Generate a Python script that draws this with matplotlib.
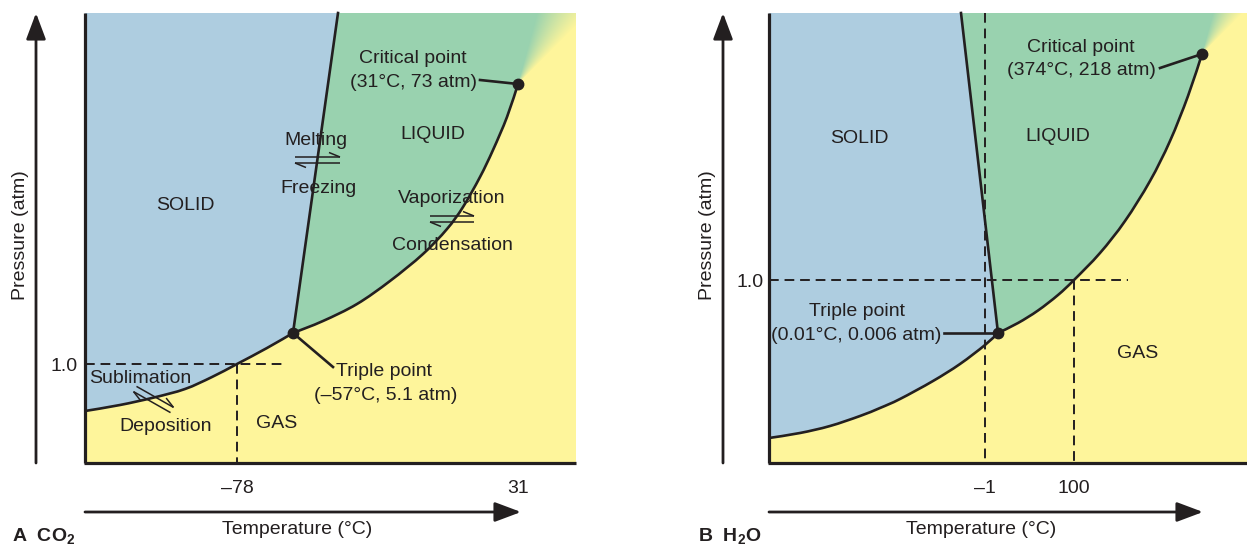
import numpy as np
import matplotlib.pyplot as plt
from matplotlib.path import Path
from matplotlib.patches import PathPatch

plt.rcParams['font.family'] = ['Liberation Sans', 'DejaVu Sans']
plt.rcParams['mathtext.fontset'] = 'custom'
plt.rcParams['mathtext.rm'] = 'Liberation Sans'
plt.rcParams['mathtext.bf'] = 'Liberation Sans:bold'

BLUE = '#aecde0'
GREEN = '#99d2af'
YELLOW = '#fef59b'
INK = '#231f20'

# schematic diagram coordinates (x right, y down)

# CO2: sublimation curve + vaporization curve (triple point at index 7)
co2_boundary_x = [85, 120, 154, 185, 212, 237, 267, 293, 323, 357, 390, 423, 447, 463, 480, 493, 507, 518]
co2_boundary_y = [411, 405, 397.5, 389, 377, 364, 348, 333, 321, 304, 281, 254, 229, 207, 177, 150, 117, 84]
co2_triple_index = 7
co2_melting_x = [293, 338]
co2_melting_y = [333, 13]
co2_temp_ticks = [237, 518]
co2_temp_labels = ['\u201378', '31']
co2_pressure_tick = 364

# H2O: sublimation curve + vaporization curve (triple point at index 9)
h2o_boundary_x = [769, 800, 830, 860, 880, 900, 933, 960, 985, 998, 1018, 1038, 1058, 1074,
                  1100, 1125, 1150, 1170, 1188, 1202]
h2o_boundary_y = [438, 433, 426, 416, 408, 399, 381, 364, 345, 333, 323, 310.5, 295, 280,
                  253, 221, 181, 141, 96, 54]
h2o_triple_index = 9
h2o_melting_x = [998, 961]
h2o_melting_y = [333, 13]
h2o_temp_ticks = [985, 1074]
h2o_temp_labels = ['\u20131', '100']
h2o_pressure_tick = 280


def smooth_segments(xs, ys):
    # Catmull-Rom through the read points, as cubic Bezier segments
    p = np.column_stack([xs, ys]).astype(float)
    ext = np.vstack([p[0], p, p[-1]])
    verts, codes = [], []
    for i in range(len(p) - 1):
        p0, p1, p2, p3 = ext[i], ext[i + 1], ext[i + 2], ext[i + 3]
        verts += [p1 + (p2 - p0) / 6, p2 - (p3 - p1) / 6, p2]
        codes += [Path.CURVE4] * 3
    return verts, codes


def txt(ax, x, y, s, ha='center', size=14, **kw):
    ax.text(x, y + 7, s, ha=ha, va='baseline', fontsize=size, color=INK, zorder=6, **kw)


def harpoons(ax, p0, p1, gap=6, barb=11, rise=4.5):
    p0 = np.array(p0, float)
    p1 = np.array(p1, float)
    u = (p1 - p0) / np.hypot(*(p1 - p0))
    up = np.array([u[1], -u[0]])
    a0, a1 = p0 + up * gap / 2, p1 + up * gap / 2
    b0, b1 = p0 - up * gap / 2, p1 - up * gap / 2
    kw = dict(color=INK, lw=1.1, zorder=6, solid_capstyle='butt')
    ax.plot([a0[0], a1[0]], [a0[1], a1[1]], **kw)
    t = a1 - u * barb + up * rise
    ax.plot([a1[0], t[0]], [a1[1], t[1]], **kw)
    ax.plot([b0[0], b1[0]], [b0[1], b1[1]], **kw)
    t = b0 + u * barb - up * rise
    ax.plot([b0[0], t[0]], [b0[1], t[1]], **kw)


def draw_panel(ax, box, bx, by, ti, mx, my, yarrow_x, xarrow_tip):
    left, right, top, bottom = box
    sub_v, sub_c = smooth_segments(bx[:ti + 1], by[:ti + 1])
    vap_v, vap_c = smooth_segments(bx[ti:], by[ti:])
    vap_rv, vap_rc = smooth_segments(bx[ti:][::-1], by[ti:][::-1])
    triple = (bx[ti], by[ti])
    crit = (bx[-1], by[-1])

    ax.fill([left, right, right, left], [top, top, bottom, bottom], color=YELLOW, lw=0, zorder=1)

    v = [(left, top), (left, by[0])] + sub_v + [(mx[1], my[1]), (left, top)]
    c = [Path.MOVETO, Path.LINETO] + sub_c + [Path.LINETO, Path.CLOSEPOLY]
    ax.add_patch(PathPatch(Path(v, c), facecolor=BLUE, lw=0, zorder=1.2))

    v = [triple, (mx[1], my[1]), (crit[0], top), crit] + vap_rv + [triple]
    c = [Path.MOVETO, Path.LINETO, Path.LINETO, Path.LINETO] + vap_rc + [Path.CLOSEPOLY]
    ax.add_patch(PathPatch(Path(v, c), facecolor=GREEN, lw=0, zorder=1.2))

    # supercritical fade above and right of the critical point
    xc, yc = crit
    gx = np.arange(xc, right) + 0.5
    gy = np.arange(top, yc) + 0.5
    X, Y = np.meshgrid(gx, gy)
    theta = np.degrees(np.arctan2(yc - Y, X - xc))
    t = np.clip((theta - 45) / 30, 0, 1)[..., None]
    g = np.array([int(GREEN[i:i + 2], 16) for i in (1, 3, 5)]) / 255
    yl = np.array([int(YELLOW[i:i + 2], 16) for i in (1, 3, 5)]) / 255
    img = yl * (1 - t) + g * t
    ax.imshow(img, extent=(xc, right, yc, top), origin='upper', aspect='auto',
              interpolation='bilinear', zorder=1.4)

    ax.plot([left, left], [top, bottom], color=INK, lw=2.3, zorder=5, solid_capstyle='butt')
    ax.plot([left - 1, right], [bottom, bottom], color=INK, lw=2.3, zorder=5, solid_capstyle='butt')

    v = [(bx[0], by[0])] + sub_v + vap_v
    c = [Path.MOVETO] + sub_c + vap_c
    ax.add_patch(PathPatch(Path(v, c), facecolor='none', edgecolor=INK, lw=1.9,
                           joinstyle='round', zorder=4))
    ax.plot(mx, my, color=INK, lw=1.9, zorder=4)
    ax.plot([triple[0], crit[0]], [triple[1], crit[1]], 'o', ms=7.5, color=INK, zorder=5)

    ap = dict(arrowstyle='-|>,head_length=1.6,head_width=0.6', lw=2.0, color=INK,
              shrinkA=0, shrinkB=0)
    ax.annotate('', xy=(yarrow_x, top), xytext=(yarrow_x, bottom), arrowprops=ap)
    ax.annotate('', xy=(xarrow_tip, 512), xytext=(left, 512), arrowprops=ap)


fig = plt.figure(figsize=(12.47, 5.47), dpi=100)
ax = fig.add_axes([0, 0, 1, 1])

dash = dict(color=INK, lw=1.4, ls=(0, (5, 3)), zorder=3)

# ---- A: CO2 ----
draw_panel(ax, (85, 576, 13, 463), co2_boundary_x, co2_boundary_y, co2_triple_index,
           co2_melting_x, co2_melting_y, 36, 521)
ax.plot([85, 286], [co2_pressure_tick] * 2, **dash)
ax.plot([co2_temp_ticks[0]] * 2, [co2_pressure_tick, 463], **dash)
for x, s in zip(co2_temp_ticks, co2_temp_labels):
    txt(ax, x, 486, s)
txt(ax, 78, co2_pressure_tick, '1.0', ha='right')

txt(ax, 185, 203, 'SOLID')
txt(ax, 433, 132, 'LIQUID')
txt(ax, 277, 421, 'GAS')
txt(ax, 316, 138, 'Melting')
txt(ax, 318, 186, 'Freezing')
harpoons(ax, (295, 160), (340, 160))
txt(ax, 452, 196, 'Vaporization')
txt(ax, 452, 243, 'Condensation')
harpoons(ax, (430, 219), (474, 219))
txt(ax, 140, 376, 'Sublimation')
txt(ax, 166, 424, 'Deposition')
harpoons(ax, (135, 389), (172, 410))

txt(ax, 413, 56, 'Critical point')
txt(ax, 413, 80, '(31\u00b0C, 73 atm)')
ax.plot([480, co2_boundary_x[-1]], [80, co2_boundary_y[-1]], color=INK, lw=1.9, zorder=4)
txt(ax, 384, 369, 'Triple point')
txt(ax, 386, 393, '(\u201357\u00b0C, 5.1 atm)')
ax.plot([co2_melting_x[0], 333], [co2_melting_y[0], 367], color=INK, lw=1.9, zorder=4)

ax.text(21, 235, 'Pressure (atm)', rotation=90, ha='center', va='center', fontsize=14, color=INK)
txt(ax, 297, 527, 'Temperature (\u00b0C)')
ax.text(12, 542, r'A  CO$_\mathbf{2}$', fontsize=14, fontweight='bold', color=INK, va='baseline')

# ---- B: H2O ----
draw_panel(ax, (769, 1247, 13, 463), h2o_boundary_x, h2o_boundary_y, h2o_triple_index,
           h2o_melting_x, h2o_melting_y, 723, 1203)
ax.plot([769, 1128], [h2o_pressure_tick] * 2, **dash)
ax.plot([h2o_temp_ticks[0]] * 2, [13, 463], **dash)
ax.plot([h2o_temp_ticks[1]] * 2, [h2o_pressure_tick, 463], **dash)
for x, s in zip(h2o_temp_ticks, h2o_temp_labels):
    txt(ax, x, 486, s)
txt(ax, 764, h2o_pressure_tick, '1.0', ha='right')

txt(ax, 859, 136, 'SOLID')
txt(ax, 1058, 134, 'LIQUID')
txt(ax, 1138, 351, 'GAS')

txt(ax, 1081, 45, 'Critical point')
txt(ax, 1081, 68, '(374\u00b0C, 218 atm)')
ax.plot([1160, h2o_boundary_x[-1]], [68, h2o_boundary_y[-1]], color=INK, lw=1.9, zorder=4)
txt(ax, 857, 309, 'Triple point')
txt(ax, 856, 333, '(0.01\u00b0C, 0.006 atm)')
ax.plot([944, h2o_melting_x[0]], [333, h2o_melting_y[0]], color=INK, lw=1.9, zorder=4)

ax.text(707, 235, 'Pressure (atm)', rotation=90, ha='center', va='center', fontsize=14, color=INK)
txt(ax, 981, 527, 'Temperature (\u00b0C)')
ax.text(698, 542, r'B  H$_\mathbf{2}$O', fontsize=14, fontweight='bold', color=INK, va='baseline')

ax.set_xlim(0, 1247)
ax.set_ylim(547, 0)
ax.axis('off')

fig.savefig('out.png', dpi=100)
plt.close(fig)
